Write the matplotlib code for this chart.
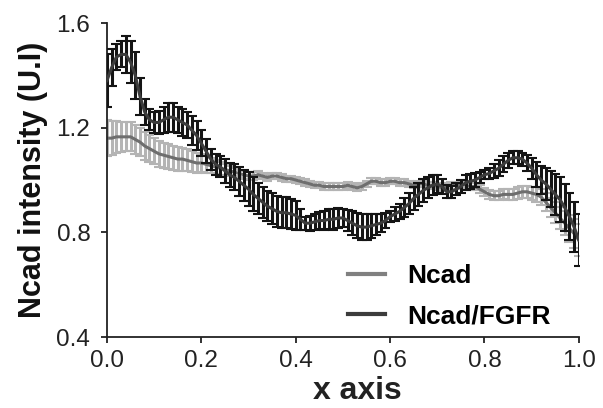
import numpy as np
import matplotlib
matplotlib.use("Agg")
import matplotlib.pyplot as plt
from matplotlib.lines import Line2D

plt.rcParams['font.family'] = ['Liberation Sans', 'DejaVu Sans']

# position along the cell (0..1)
x_pos = np.round(np.arange(0, 101) / 100, 2)

# Ncad/FGFR mean and error
fgfr_mean = [1.38, 1.43, 1.47, 1.48, 1.48, 1.45, 1.40, 1.32, 1.26, 1.23,
             1.22, 1.22, 1.23, 1.24, 1.24, 1.23, 1.22, 1.21, 1.19, 1.17,
             1.14, 1.11, 1.08, 1.06, 1.05, 1.035, 1.02, 1.01, 0.995, 0.98,
             0.965, 0.945, 0.93, 0.915, 0.90, 0.89, 0.88, 0.875, 0.875, 0.87,
             0.865, 0.85, 0.835, 0.835, 0.84, 0.845, 0.845, 0.85, 0.85, 0.855,
             0.855, 0.845, 0.835, 0.825, 0.82, 0.82, 0.825, 0.83, 0.835, 0.845,
             0.86, 0.87, 0.88, 0.895, 0.91, 0.93, 0.945, 0.96, 0.97, 0.98,
             0.985, 0.975, 0.955, 0.955, 0.965, 0.975, 0.99, 0.995, 1.00, 1.01,
             1.02, 1.025, 1.035, 1.045, 1.06, 1.075, 1.085, 1.085, 1.08, 1.065,
             1.045, 1.02, 1.00, 0.985, 0.965, 0.945, 0.925, 0.895, 0.86, 0.82,
             0.77]
fgfr_err = [0.10, 0.07, 0.05, 0.05, 0.07, 0.08, 0.09, 0.07, 0.05, 0.04,
            0.04, 0.045, 0.05, 0.055, 0.055, 0.05, 0.05, 0.05, 0.055, 0.055,
            0.05, 0.045, 0.04, 0.04, 0.04, 0.045, 0.045, 0.05, 0.055, 0.06,
            0.065, 0.065, 0.06, 0.06, 0.057, 0.06, 0.06, 0.06, 0.06, 0.058,
            0.055, 0.04, 0.025, 0.028, 0.03, 0.033, 0.035, 0.038, 0.04, 0.038,
            0.035, 0.04, 0.045, 0.048, 0.05, 0.05, 0.045, 0.04, 0.035, 0.028,
            0.02, 0.025, 0.03, 0.035, 0.04, 0.043, 0.045, 0.043, 0.04, 0.038,
            0.035, 0.03, 0.025, 0.023, 0.022, 0.025, 0.03, 0.028, 0.025, 0.02,
            0.018, 0.022, 0.028, 0.03, 0.03, 0.028, 0.025, 0.025, 0.025, 0.032,
            0.04, 0.048, 0.055, 0.062, 0.07, 0.078, 0.085, 0.088, 0.09, 0.095,
            0.10]

# Ncad mean and error
ncad_mean = [1.16, 1.16, 1.165, 1.165, 1.165, 1.165, 1.155, 1.145, 1.13, 1.12,
             1.11, 1.10, 1.095, 1.09, 1.085, 1.08, 1.08, 1.075, 1.07, 1.065,
             1.065, 1.06, 1.055, 1.05, 1.045, 1.04, 1.035, 1.03, 1.025, 1.02,
             1.015, 1.015, 1.02, 1.015, 1.01, 1.015, 1.015, 1.01, 1.005, 1.005,
             1.00, 0.995, 0.99, 0.985, 0.98, 0.98, 0.975, 0.975, 0.975, 0.975,
             0.975, 0.98, 0.975, 0.97, 0.975, 0.985, 0.995, 0.995, 0.99, 0.99,
             0.995, 0.995, 0.99, 0.99, 0.985, 0.98, 0.985, 0.985, 0.98, 0.98,
             0.975, 0.97, 0.975, 0.98, 0.98, 0.985, 0.98, 0.975, 0.975, 0.965,
             0.955, 0.945, 0.94, 0.94, 0.945, 0.945, 0.945, 0.95, 0.955, 0.955,
             0.95, 0.945, 0.935, 0.915, 0.895, 0.875, 0.855, 0.835, 0.815, 0.795,
             0.77]
ncad_err = [0.07, 0.065, 0.06, 0.058, 0.056, 0.055, 0.055, 0.055, 0.055, 0.053,
            0.05, 0.05, 0.048, 0.047, 0.046, 0.045, 0.044, 0.042, 0.04, 0.038,
            0.035, 0.032, 0.03, 0.027, 0.024, 0.02, 0.018, 0.016, 0.015, 0.015,
            0.015, 0.014, 0.013, 0.013, 0.012, 0.012, 0.012, 0.012, 0.012, 0.012,
            0.012, 0.012, 0.012, 0.012, 0.012, 0.012, 0.012, 0.012, 0.012, 0.012,
            0.012, 0.012, 0.012, 0.012, 0.012, 0.012, 0.012, 0.012, 0.012, 0.012,
            0.012, 0.012, 0.012, 0.012, 0.012, 0.012, 0.012, 0.012, 0.012, 0.013,
            0.013, 0.013, 0.014, 0.014, 0.014, 0.015, 0.015, 0.015, 0.015, 0.015,
            0.015, 0.016, 0.017, 0.018, 0.019, 0.02, 0.021, 0.022, 0.023, 0.024,
            0.025, 0.028, 0.031, 0.034, 0.037, 0.04, 0.043, 0.046, 0.05, 0.055,
            0.06]

fig = plt.figure(figsize=(6.03, 4.08), dpi=100)
ax = fig.add_axes([0.1774, 0.174, 0.7826, 0.7696])

ax.errorbar(x_pos, ncad_mean, yerr=ncad_err, color='#6e6e6e', lw=2.2,
            ecolor='#b4b4b4', elinewidth=2.2, capsize=3.5, capthick=1.5, zorder=2)
ax.errorbar(x_pos, fgfr_mean, yerr=fgfr_err, color='#3c3c3c', lw=2.2,
            ecolor='#141414', elinewidth=2.2, capsize=3.5, capthick=1.5, zorder=3)

ax.set_xlim(0, 1.0)
ax.set_ylim(0.4, 1.6)
ax.set_xticks([0.0, 0.2, 0.4, 0.6, 0.8, 1.0])
ax.set_yticks([0.4, 0.8, 1.2, 1.6])
ax.xaxis.set_major_formatter(matplotlib.ticker.FormatStrFormatter('%.1f'))
ax.yaxis.set_major_formatter(matplotlib.ticker.FormatStrFormatter('%.1f'))

for s in ['top', 'right']:
    ax.spines[s].set_visible(False)
for s in ['left', 'bottom']:
    ax.spines[s].set_linewidth(1.3)
    ax.spines[s].set_color('#222222')
ax.tick_params(direction='out', length=4, width=1.3, labelsize=17.5,
               colors='#222222')
ax.tick_params(axis='y', pad=8)
ax.tick_params(axis='x', pad=5)

ax.set_xlabel('x axis', fontsize=23, fontweight='bold', color='#222222',
              labelpad=3, x=0.53)
ax.set_ylabel('Ncad intensity (U.I)', fontsize=22, fontweight='bold',
              color='#111111', labelpad=6)

handles = [Line2D([], [], color='#808080', lw=3),
           Line2D([], [], color='#3c3c3c', lw=3)]
leg = ax.legend(handles, ['Ncad', 'Ncad/FGFR'], loc='lower left',
                bbox_to_anchor=(0.46, -0.048), frameon=False,
                prop={'weight': 'bold', 'size': 19}, handlelength=1.4,
                handletextpad=0.85, labelspacing=0.62)

fig.savefig('out.png', dpi=100)
